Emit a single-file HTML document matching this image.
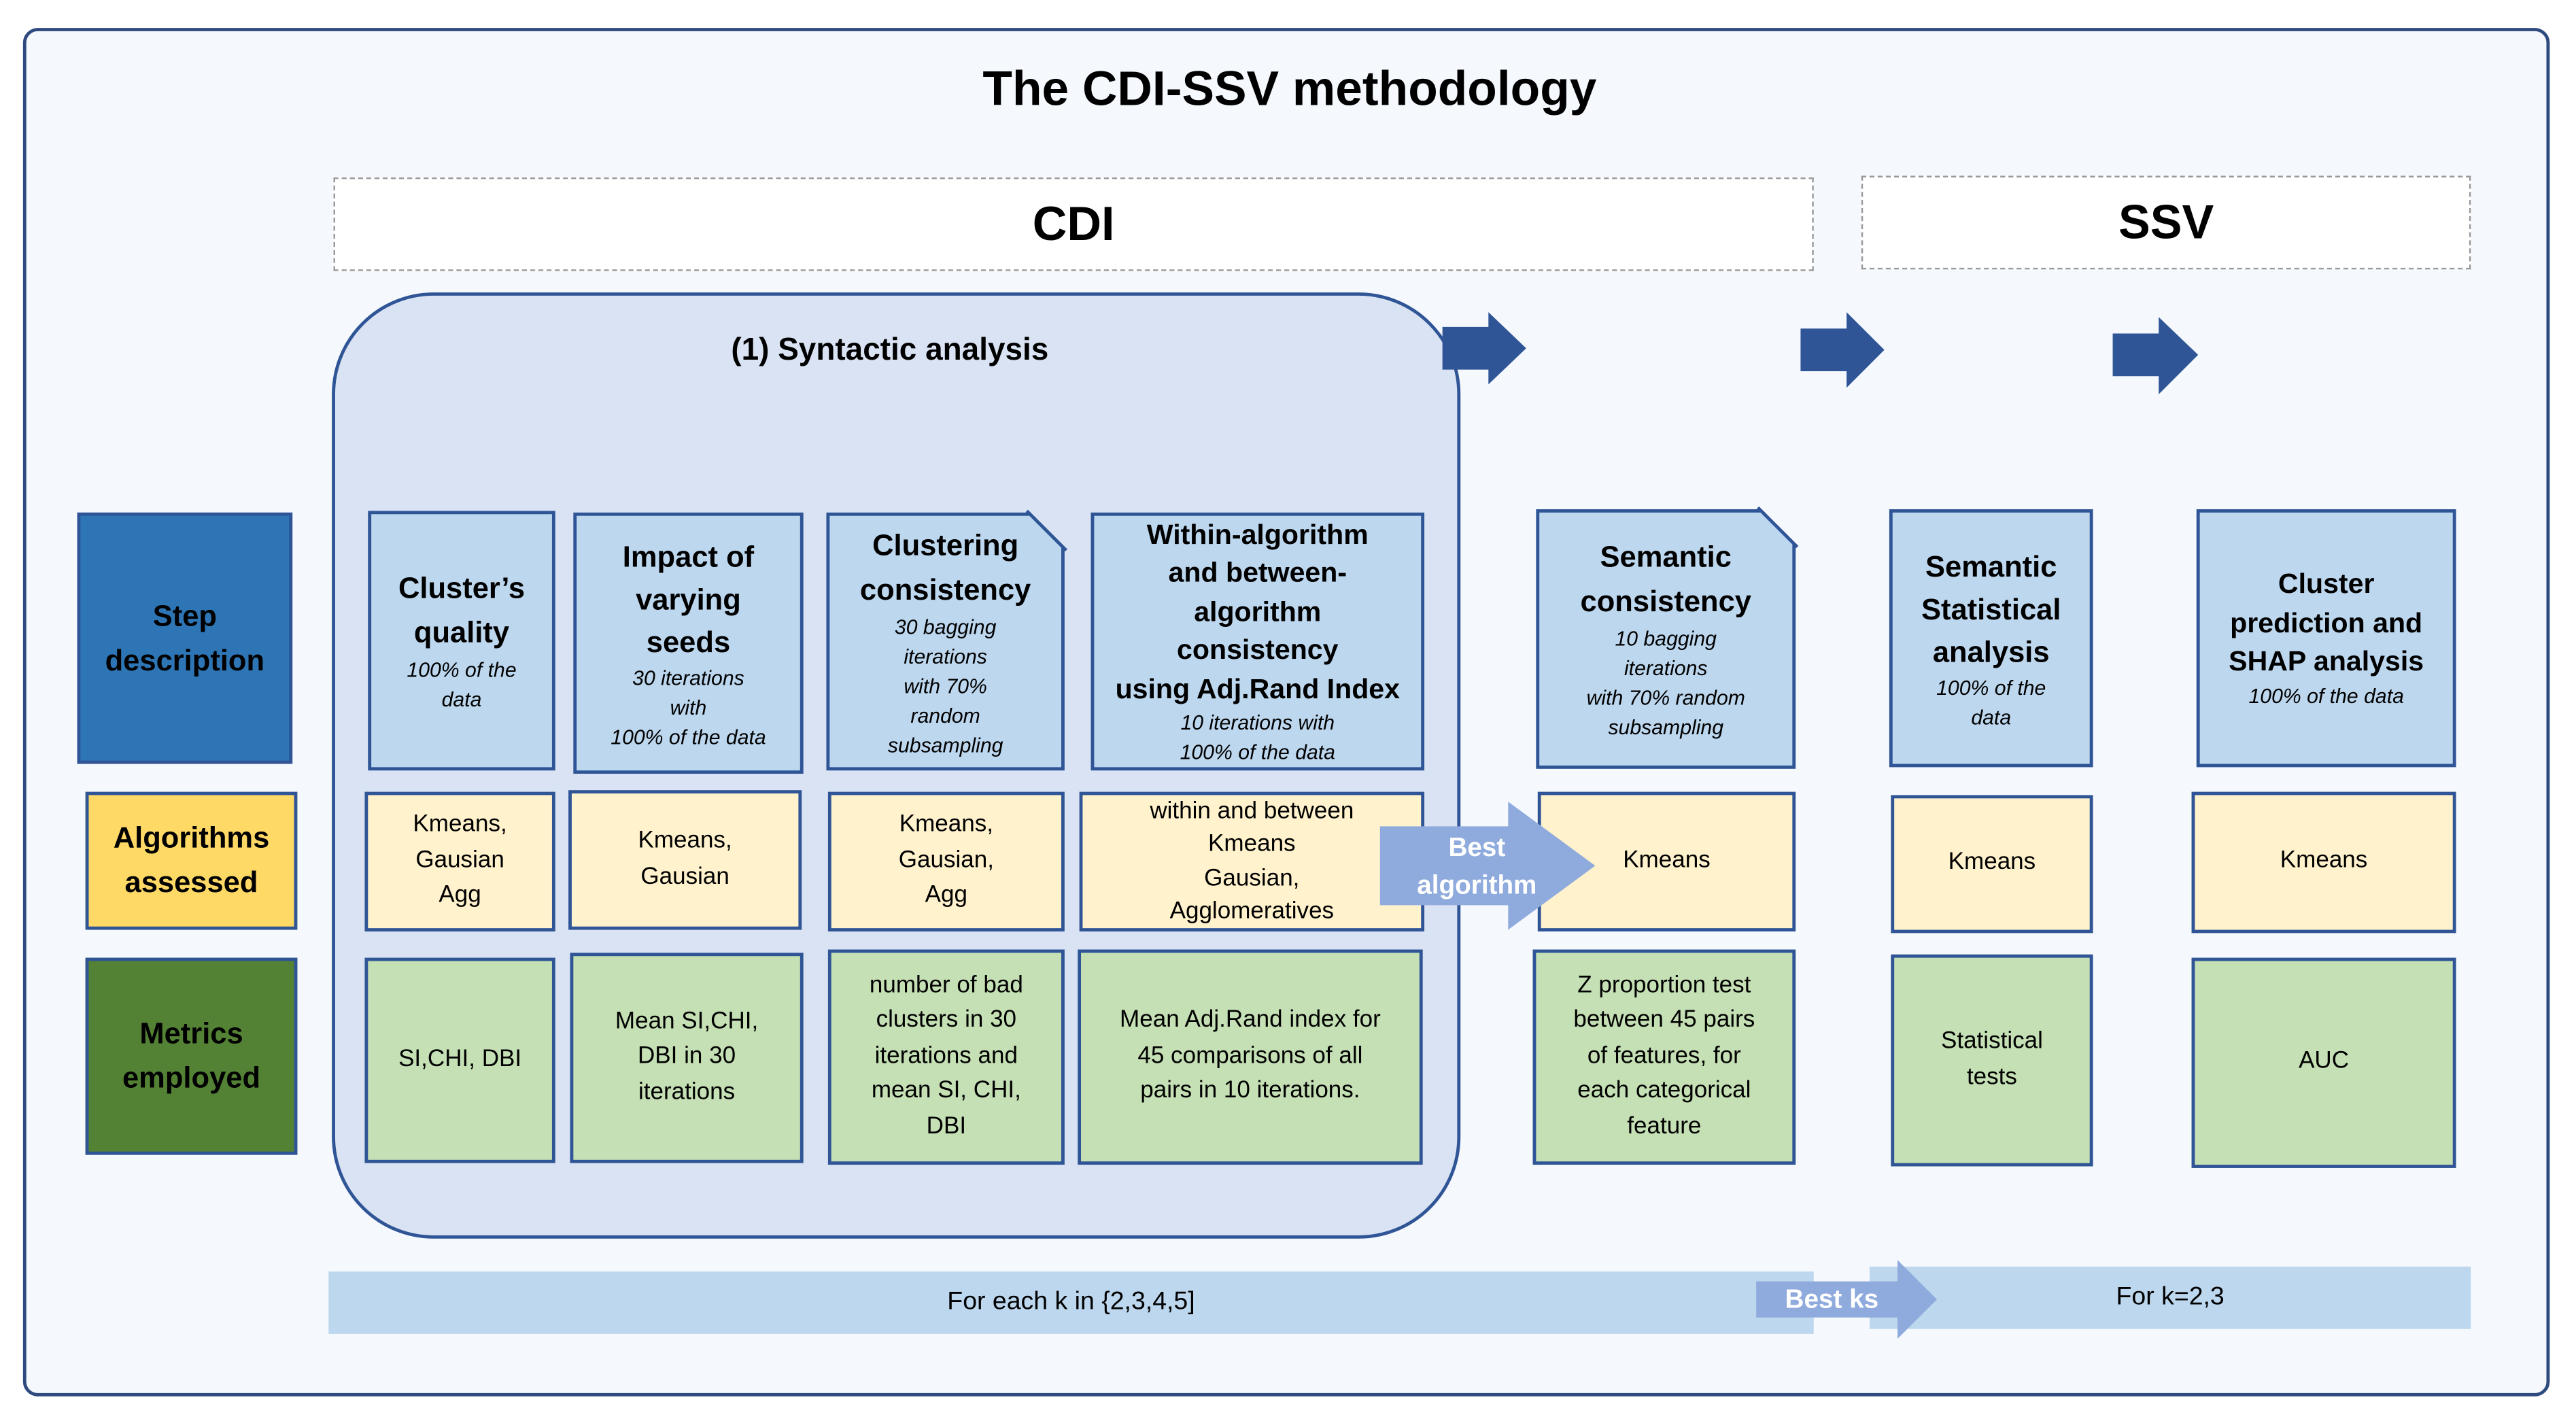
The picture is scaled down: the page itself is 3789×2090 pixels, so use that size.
<!DOCTYPE html>
<html><head><meta charset="utf-8">
<style>
html,body{margin:0;padding:0;background:#fff;}
body{width:3789px;height:2090px;overflow:hidden;position:relative;}
#s{position:absolute;left:0;top:0;width:1568px;height:865px;transform:scale(2.41645,2.41618);transform-origin:0 0;font-family:"Liberation Sans",sans-serif;color:#000;}
.a{position:absolute;box-sizing:border-box;}
.b{position:absolute;box-sizing:border-box;border:2px solid #2f5597;display:flex;flex-direction:column;justify-content:center;align-items:center;text-align:center;}
.t{font-weight:bold;font-size:17px;line-height:25px;}
.i{font-style:italic;font-size:12.5px;line-height:18px;}
.n{font-size:14.5px;line-height:21.5px;}
.lb{background:#bdd7ee;}
.cr{background:#fff2cc;}
.gr{background:#c5e0b4;}
</style></head><body>
<div id="s">
<div class="a" style="left:14px;top:17px;width:1538px;height:833px;border:2px solid #2f4a7f;border-radius:9px;background:#f5f9fd;"></div>
<div class="a" style="left:0;top:38px;width:1570px;text-align:center;font-weight:bold;font-size:29.5px;">The CDI-SSV methodology</div>
<div class="a" style="left:203px;top:108px;width:901px;height:57px;border:1px dashed #999;background:#fff;text-align:center;font-weight:bold;font-size:29px;line-height:57px;">CDI</div>
<div class="a" style="left:1133px;top:107px;width:371px;height:57px;border:1px dashed #999;background:#fff;text-align:center;font-weight:bold;font-size:29px;line-height:57px;">SSV</div>

<div class="a" style="left:202px;top:178px;width:687px;height:576px;border:2px solid #2f5597;border-radius:62px;background:#dae3f3;"></div>
<div class="a" style="left:445px;top:203px;font-weight:bold;font-size:19px;">(1) Syntactic analysis</div>

<svg class="a" style="left:0;top:0" width="1568" height="865">
<g fill="#2f5597">
<polygon points="878,199 906,199 906,190 929,212 906,234 906,225 878,225"/>
<polygon points="1096,200 1124,200 1124,190 1147,213 1124,236 1124,226 1096,226"/>
<polygon points="1286,203 1314,203 1314,193 1338,216 1314,240 1314,229 1286,229"/>
</g>
</svg>

<div class="b" style="left:47px;top:312px;width:131px;height:153px;background:#2e75b6;border-color:#2f5597;"><div class="t" style="font-size:18px;line-height:27px;">Step<br>description</div></div>
<div class="b" style="left:52px;top:482px;width:129px;height:84px;background:#ffd966;"><div class="t" style="font-size:18px;line-height:27px;">Algorithms<br>assessed</div></div>
<div class="b" style="left:52px;top:583px;width:129px;height:120px;background:#548235;"><div class="t" style="font-size:18px;line-height:27px;">Metrics<br>employed</div></div>

<div class="b lb" style="left:224px;top:311px;width:114px;height:158px;"><div class="t" style="font-size:18px;line-height:27px;">Cluster’s<br>quality</div><div class="i">100% of the<br>data</div></div>
<div class="b lb" style="left:349px;top:312px;width:140px;height:159px;"><div class="t" style="font-size:18px;line-height:26px;">Impact of<br>varying<br>seeds</div><div class="i">30 iterations<br>with<br>100% of the data</div></div>
<div class="b lb" style="left:503px;top:312px;width:145px;height:157px;"><div class="t" style="font-size:18px;line-height:27px;">Clustering<br>consistency</div><div class="i">30 bagging<br>iterations<br>with 70%<br>random<br>subsampling</div></div>
<svg class="a" style="left:624px;top:310px" width="26" height="26"><polygon points="0,0 26,0 26,26" fill="#dae3f3"/><line x1="1" y1="1" x2="25" y2="25" stroke="#2f5597" stroke-width="2"/></svg>
<div class="b lb" style="left:664px;top:312px;width:203px;height:157px;"><div class="t" style="line-height:23.5px;">Within-algorithm<br>and between-<br>algorithm<br>consistency<br>using Adj.Rand Index</div><div class="i">10 iterations with<br>100% of the data</div></div>
<div class="b lb" style="left:935px;top:310px;width:158px;height:158px;"><div class="t" style="font-size:18px;line-height:27px;">Semantic<br>consistency</div><div class="i">10 bagging<br>iterations<br>with 70% random<br>subsampling</div></div>
<svg class="a" style="left:1069px;top:308px" width="26" height="26"><polygon points="0,0 26,0 26,26" fill="#f5f9fd"/><line x1="1" y1="1" x2="25" y2="25" stroke="#2f5597" stroke-width="2"/></svg>
<div class="b lb" style="left:1150px;top:310px;width:124px;height:157px;"><div class="t" style="font-size:18px;line-height:26px;">Semantic<br>Statistical<br>analysis</div><div class="i">100% of the<br>data</div></div>
<div class="b lb" style="left:1337px;top:310px;width:158px;height:157px;"><div class="t" style="line-height:23.5px;">Cluster<br>prediction and<br>SHAP analysis</div><div class="i">100% of the data</div></div>

<div class="b cr" style="left:222px;top:482px;width:116px;height:85px;"><div class="n">Kmeans,<br>Gausian<br>Agg</div></div>
<div class="b cr" style="left:346px;top:481px;width:142px;height:85px;"><div class="n">Kmeans,<br>Gausian</div></div>
<div class="b cr" style="left:504px;top:482px;width:144px;height:85px;"><div class="n">Kmeans,<br>Gausian,<br>Agg</div></div>
<div class="b cr" style="left:657px;top:482px;width:210px;height:85px;"><div class="n" style="line-height:20.5px;">within and between<br>Kmeans<br>Gausian,<br>Agglomeratives</div></div>
<div class="b cr" style="left:936px;top:482px;width:157px;height:85px;"><div class="n">Kmeans</div></div>
<div class="b cr" style="left:1151px;top:484px;width:123px;height:84px;"><div class="n">Kmeans</div></div>
<div class="b cr" style="left:1334px;top:482px;width:161px;height:86px;"><div class="n">Kmeans</div></div>

<div class="b gr" style="left:222px;top:583px;width:116px;height:125px;"><div class="n">SI,CHI, DBI</div></div>
<div class="b gr" style="left:347px;top:580px;width:142px;height:128px;"><div class="n">Mean SI,CHI,<br>DBI in 30<br>iterations</div></div>
<div class="b gr" style="left:504px;top:578px;width:144px;height:131px;"><div class="n">number of bad<br>clusters in 30<br>iterations and<br>mean SI, CHI,<br>DBI</div></div>
<div class="b gr" style="left:656px;top:578px;width:210px;height:131px;"><div class="n">Mean Adj.Rand index for<br>45 comparisons of all<br>pairs in 10 iterations.</div></div>
<div class="b gr" style="left:933px;top:578px;width:160px;height:131px;"><div class="n">Z proportion test<br>between 45 pairs<br>of features, for<br>each categorical<br>feature</div></div>
<div class="b gr" style="left:1151px;top:581px;width:123px;height:129px;"><div class="n">Statistical<br>tests</div></div>
<div class="b gr" style="left:1334px;top:583px;width:161px;height:128px;"><div class="n">AUC</div></div>

<svg class="a" style="left:0;top:0" width="1568" height="865">
<polygon points="840,503 918,503 918,488 971,527 918,566 918,551 840,551" fill="#8faadc"/>
</svg>
<div class="a" style="left:840px;top:505px;width:118px;text-align:center;color:#fff;font-weight:bold;font-size:16px;line-height:23px;">Best<br>algorithm</div>

<div class="a" style="left:200px;top:774px;width:904px;height:38px;background:#bdd7ee;text-align:center;font-size:15.5px;line-height:38px;">For each k in {2,3,4,5]</div>
<div class="a" style="left:1138px;top:771px;width:366px;height:38px;background:#bdd7ee;text-align:center;font-size:15.5px;line-height:38px;">For k=2,3</div>
<svg class="a" style="left:0;top:0" width="1568" height="865">
<polygon points="1069,780 1155,780 1155,767 1179,791 1155,815 1155,802 1069,802" fill="#8faadc"/>
</svg>
<div class="a" style="left:1070px;top:781px;width:90px;text-align:center;color:#fff;font-weight:bold;font-size:16px;line-height:22px;">Best ks</div>
</div>
</body></html>
